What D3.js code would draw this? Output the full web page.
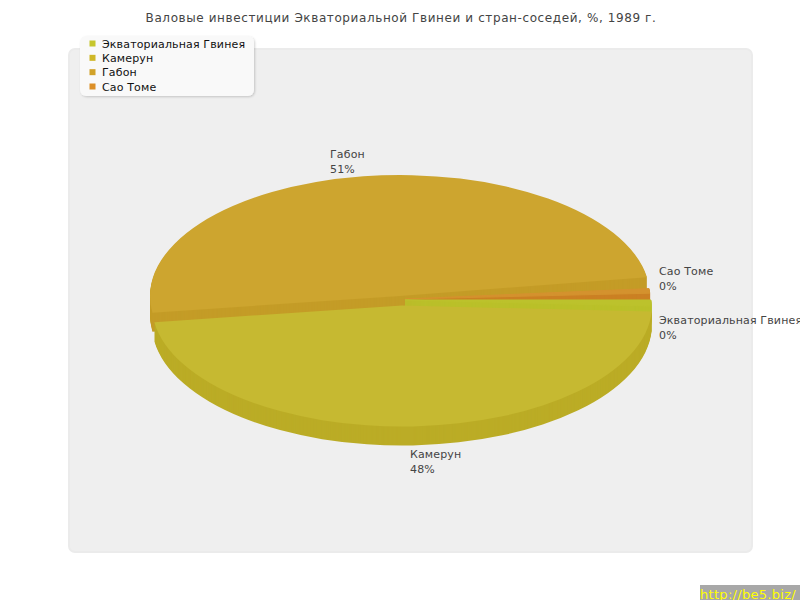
<!DOCTYPE html>
<html>
<head>
<meta charset="utf-8">
<script src="https://cdn.jsdelivr.net/npm/d3@7"></script>
<style>
  html, body { margin: 0; padding: 0; background: #fff; }
  svg { display: block; }
  text { font-family: "DejaVu Sans", sans-serif; }
</style>
</head>
<body>
<div class="graph"></div>
<script>
// data
const categories = ["Экваториальная Гвинея", "Камерун", "Габон", "Сао Томе"]
const shares = [0.8, 47, 50.8, 1.4]
const percentLabels = ["0%", "48%", "51%", "0%"]

// styles per slice
const topColors = ["#bcc22c", "#c6b931", "#cda52f", "#d4922e"]
const wallColors = ["#bac02a", "#bbac26", "#c49c27", "#cb8024"]
const legendColors = ["#c6c62c", "#cfb727", "#d1a229", "#dc8f27"]
const centers = [[405, 300], [402, 305.5], [400, 296], [405, 299]]
const radii = [246, 250, 250, 245]
const labelSpots = [[659, 324], [410, 458], [330, 158], [659, 275]]
const trimEnd = [0, 0, 3.9, 2.8] // degrees cut off the end of a slice
const thinStroke = [1, 0, 0, 1] // very thin wedges fade out near the tip without it
const drawOrder = [2, 3, 0, 1]

const w = 800
const h = 600
const squash = 0.484
const depth = 19

const svg = d3.select(".graph").append("svg")
  .attr("width", w)
  .attr("height", h)

const defs = svg.append("defs")
const shadow = defs.append("filter").attr("id", "soft")
  .attr("x", "-10%").attr("y", "-10%").attr("width", "120%").attr("height", "130%")
shadow.append("feDropShadow")
  .attr("dx", 1).attr("dy", 1).attr("stdDeviation", 1)
  .attr("flood-color", "#000").attr("flood-opacity", 0.18)

// title
svg.append("text")
  .attr("x", 401)
  .attr("y", 22)
  .attr("text-anchor", "middle")
  .attr("font-size", 12)
  .attr("letter-spacing", 0.6)
  .attr("fill", "#444")
  .text("Валовые инвестиции Экваториальной Гвинеи и стран-соседей, %, 1989 г.")

// plot panel
svg.append("rect")
  .attr("x", 69).attr("y", 49)
  .attr("width", 683).attr("height", 503)
  .attr("rx", 6)
  .attr("fill", "#efefef")
  .attr("stroke", "#ebebeb")
  .attr("stroke-width", 2)

// pie, starts at 3 o'clock and goes clockwise
const pie = d3.pie().sort(null)
  .startAngle(Math.PI / 2)
  .endAngle(Math.PI / 2 + 2 * Math.PI)
const arcs = pie(shares)

const slices = svg.selectAll("g.slice")
  .data(drawOrder)
  .enter()
  .append("g")
  .attr("class", "slice")
  .attr("transform", i => `translate(${centers[i][0]},${centers[i][1]})`)

const shape = i => d3.arc()({
  innerRadius: 0,
  outerRadius: radii[i],
  startAngle: arcs[i].startAngle,
  endAngle: arcs[i].endAngle - trimEnd[i] * Math.PI / 180
})

// the side of the slice is the same wedge stacked downwards
slices.each(function (i) {
  const g = d3.select(this)
  g.selectAll("path.wall")
    .data(d3.range(depth, 0, -1))
    .enter()
    .append("path")
    .attr("class", "wall")
    .attr("transform", k => `translate(0,${k}) scale(1,${squash})`)
    .attr("d", shape(i))
    .attr("fill", wallColors[i])
    .attr("stroke", thinStroke[i] ? wallColors[i] : "none")
    .attr("stroke-width", thinStroke[i])
    .attr("vector-effect", "non-scaling-stroke")
  g.append("path")
    .attr("class", "top")
    .attr("transform", `scale(1,${squash})`)
    .attr("d", shape(i))
    .attr("fill", topColors[i])
    .attr("stroke", thinStroke[i] ? topColors[i] : "none")
    .attr("stroke-width", thinStroke[i])
    .attr("vector-effect", "non-scaling-stroke")
})

// slice labels
const labels = svg.selectAll("text.label")
  .data(categories)
  .enter()
  .append("text")
  .attr("class", "label")
  .attr("font-size", 11)
  .attr("letter-spacing", 0.15)
  .attr("fill", "#444")
labels.append("tspan")
  .attr("x", (d, i) => labelSpots[i][0])
  .attr("y", (d, i) => labelSpots[i][1])
  .text(d => d)
labels.append("tspan")
  .attr("x", (d, i) => labelSpots[i][0])
  .attr("y", (d, i) => labelSpots[i][1] + 15)
  .text((d, i) => percentLabels[i])

// legend
svg.append("rect")
  .attr("x", 80).attr("y", 36)
  .attr("width", 174).attr("height", 60)
  .attr("rx", 6)
  .attr("fill", "#f9f9f9")
  .attr("filter", "url(#soft)")

const legendY = d3.scalePoint().domain(categories).range([43.5, 86.5])
const legend = svg.selectAll("g.legend")
  .data(categories)
  .enter()
  .append("g")
  .attr("class", "legend")
  .attr("transform", d => `translate(0,${legendY(d)})`)
legend.append("rect")
  .attr("x", 89.5).attr("y", -3)
  .attr("width", 6).attr("height", 6)
  .attr("fill", (d, i) => legendColors[i])
legend.append("text")
  .attr("x", 102).attr("y", 4)
  .attr("font-size", 11)
  .attr("letter-spacing", 0.15)
  .attr("fill", "#111")
  .text(d => d)

// site stamp
svg.append("rect")
  .attr("x", 700).attr("y", 585)
  .attr("width", 100).attr("height", 15)
  .attr("fill", "#a8a8a8")
svg.append("text")
  .attr("x", 700).attr("y", 599)
  .attr("font-size", 13)
  .attr("letter-spacing", 0.3)
  .attr("fill", "#ffff00")
  .text("http://be5.biz/")
</script>
</body>
</html>
